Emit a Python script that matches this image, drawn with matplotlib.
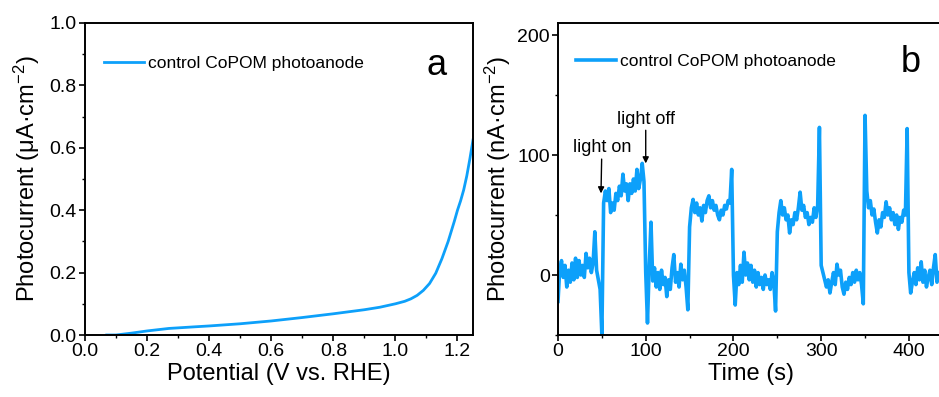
import matplotlib
matplotlib.use("Agg")
import matplotlib.pyplot as plt
import numpy as np
from matplotlib.ticker import MultipleLocator

plt.rcParams['font.family'] = ['Liberation Sans', 'DejaVu Sans']
plt.rcParams['mathtext.fontset'] = 'custom'
plt.rcParams['mathtext.rm'] = 'Liberation Sans'
plt.rcParams['mathtext.it'] = 'Liberation Sans'

# panel a: linear sweep
potential = [0.07, 0.10, 0.15, 0.20, 0.27, 0.35, 0.40, 0.50, 0.60, 0.70, 0.80, 0.90,
             0.95, 1.00, 1.03, 1.05, 1.07, 1.09, 1.11, 1.13, 1.15, 1.17, 1.19, 1.20,
             1.21, 1.22, 1.23, 1.24, 1.25]
current_a = [0.0, 0.0, 0.006, 0.013, 0.021, 0.026, 0.029, 0.036, 0.045, 0.056, 0.068, 0.081,
             0.089, 0.100, 0.108, 0.116, 0.127, 0.143, 0.165, 0.198, 0.245, 0.300, 0.365, 0.400,
             0.430, 0.465, 0.510, 0.565, 0.625]

# panel b: chopped light, sampled every 2 s
time_b = np.arange(0, 436, 2)
seg_off0 = [-22, 5, 12, -2, 8, -10, 4, -6, 10, -4, 14, -2, 12, 0, 8, -2, 18, 6, 14, 2, 10, 36, 4, -4, -12]
seg_on1 = [-50, 60, 70, 62, 72, 52, 60, 54, 68, 62, 74, 66, 84, 70, 76, 62, 76, 68, 80, 70, 88, 72, 80, 93, 78]
seg_off1 = [2, -40, 8, 44, -5, 6, -10, 2, -12, 4, -8, -2, -18, -4, -12, 6, 17, -6, 2, -10, 9, -4, 4, -10, -29]
seg_on2 = [40, 56, 63, 52, 60, 50, 56, 45, 58, 52, 62, 66, 56, 62, 54, 58, 50, 46, 54, 50, 58, 55, 62, 60, 88]
seg_off2 = [0, -25, 2, -8, 8, -6, 19, 0, 10, -4, 8, -6, 4, -10, 2, -8, -2, -12, 0, -8, -4, -12, 2, -6, -30]
seg_on3 = [36, 52, 62, 50, 56, 46, 50, 35, 46, 42, 52, 46, 56, 69, 54, 58, 48, 52, 42, 48, 44, 56, 48, 58, 123]
seg_off3 = [8, 2, -4, -10, -4, -15, -6, 2, -8, 9, 0, 4, -10, -16, -6, -12, -2, -8, 2, -6, 4, -4, 2, -8, -24]
seg_on4 = [133, 70, 56, 62, 50, 55, 44, 35, 46, 40, 52, 48, 61, 50, 56, 46, 52, 42, 50, 38, 48, 44, 54, 50, 122]
seg_off4 = [2, -15, -6, 2, -8, 6, -4, 11, -6, 4, -10, -2, 4, -8, 6, 17, -6, 2]
current_b = (seg_off0 + seg_on1 + seg_off1 + seg_on2 + seg_off2 + seg_on3
             + seg_off3 + seg_on4 + seg_off4)

blue = '#0DA0FA'

fig = plt.figure(figsize=(9.39, 3.97), dpi=100)
ax1 = fig.add_axes([85/939, 62/397, 388/939, 312/397])
ax2 = fig.add_axes([558/939, 62/397, 386/939, 312/397])

ax1.plot(potential, current_a, color=blue, lw=2, label='control CoPOM photoanode')
ax1.set_xlim(0, 1.25)
ax1.set_ylim(0, 1.0)
ax1.xaxis.set_major_locator(MultipleLocator(0.2))
ax1.xaxis.set_minor_locator(MultipleLocator(0.1))
ax1.yaxis.set_major_locator(MultipleLocator(0.2))
ax1.yaxis.set_minor_locator(MultipleLocator(0.1))
ax1.xaxis.set_major_formatter(plt.FuncFormatter(lambda v, p: f'{v:.1f}'))
ax1.yaxis.set_major_formatter(plt.FuncFormatter(lambda v, p: f'{v:.1f}'))
ax1.set_xlabel('Potential (V vs. RHE)', fontsize=17, labelpad=2)
ax1.set_ylabel('Photocurrent (μA·cm$^{-2}$)', fontsize=17, labelpad=5)
ax1.legend(loc='upper left', bbox_to_anchor=(0.049, 0.895), frameon=False, fontsize=12.5,
           handlelength=2.3, handletextpad=0.25, borderpad=0, borderaxespad=0)
ax1.text(0.905, 0.865, 'a', transform=ax1.transAxes, fontsize=26, ha='center', va='center')

ax2.plot(time_b, current_b, color=blue, lw=2.6, label='control CoPOM photoanode')
ax2.set_xlim(0, 440)
ax2.set_ylim(-50, 210)
ax2.xaxis.set_major_locator(MultipleLocator(100))
ax2.xaxis.set_minor_locator(MultipleLocator(50))
ax2.yaxis.set_major_locator(MultipleLocator(100))
ax2.yaxis.set_minor_locator(MultipleLocator(50))
ax2.set_xlabel('Time (s)', fontsize=17, labelpad=2)
ax2.set_ylabel('Photocurrent (nA·cm$^{-2}$)', fontsize=17, labelpad=3)
ax2.legend(loc='upper left', bbox_to_anchor=(0.047, 0.9), frameon=False, fontsize=12.5,
           handlelength=2.3, handletextpad=0.25, borderpad=0, borderaxespad=0)
ax2.text(0.915, 0.875, 'b', transform=ax2.transAxes, fontsize=26, ha='center', va='center')

ax2.annotate('light on', xy=(49, 68), xytext=(50, 106), ha='center', va='center', fontsize=13,
             arrowprops=dict(arrowstyle='-|>', color='black', lw=1, mutation_scale=9,
                             shrinkA=0, shrinkB=0))
ax2.annotate('light off', xy=(100, 93), xytext=(100, 130), ha='center', va='center', fontsize=13,
             arrowprops=dict(arrowstyle='-|>', color='black', lw=1, mutation_scale=9,
                             shrinkA=0, shrinkB=0))

for ax in (ax1, ax2):
    for s in ax.spines.values():
        s.set_linewidth(1.4)
    ax.tick_params(which='major', direction='out', length=4, width=1.2, labelsize=14,
                   top=False, right=False, pad=2)
    ax.tick_params(which='minor', direction='out', length=2.5, width=1.0,
                   top=False, right=False)

fig.savefig('out.png', dpi=100)
